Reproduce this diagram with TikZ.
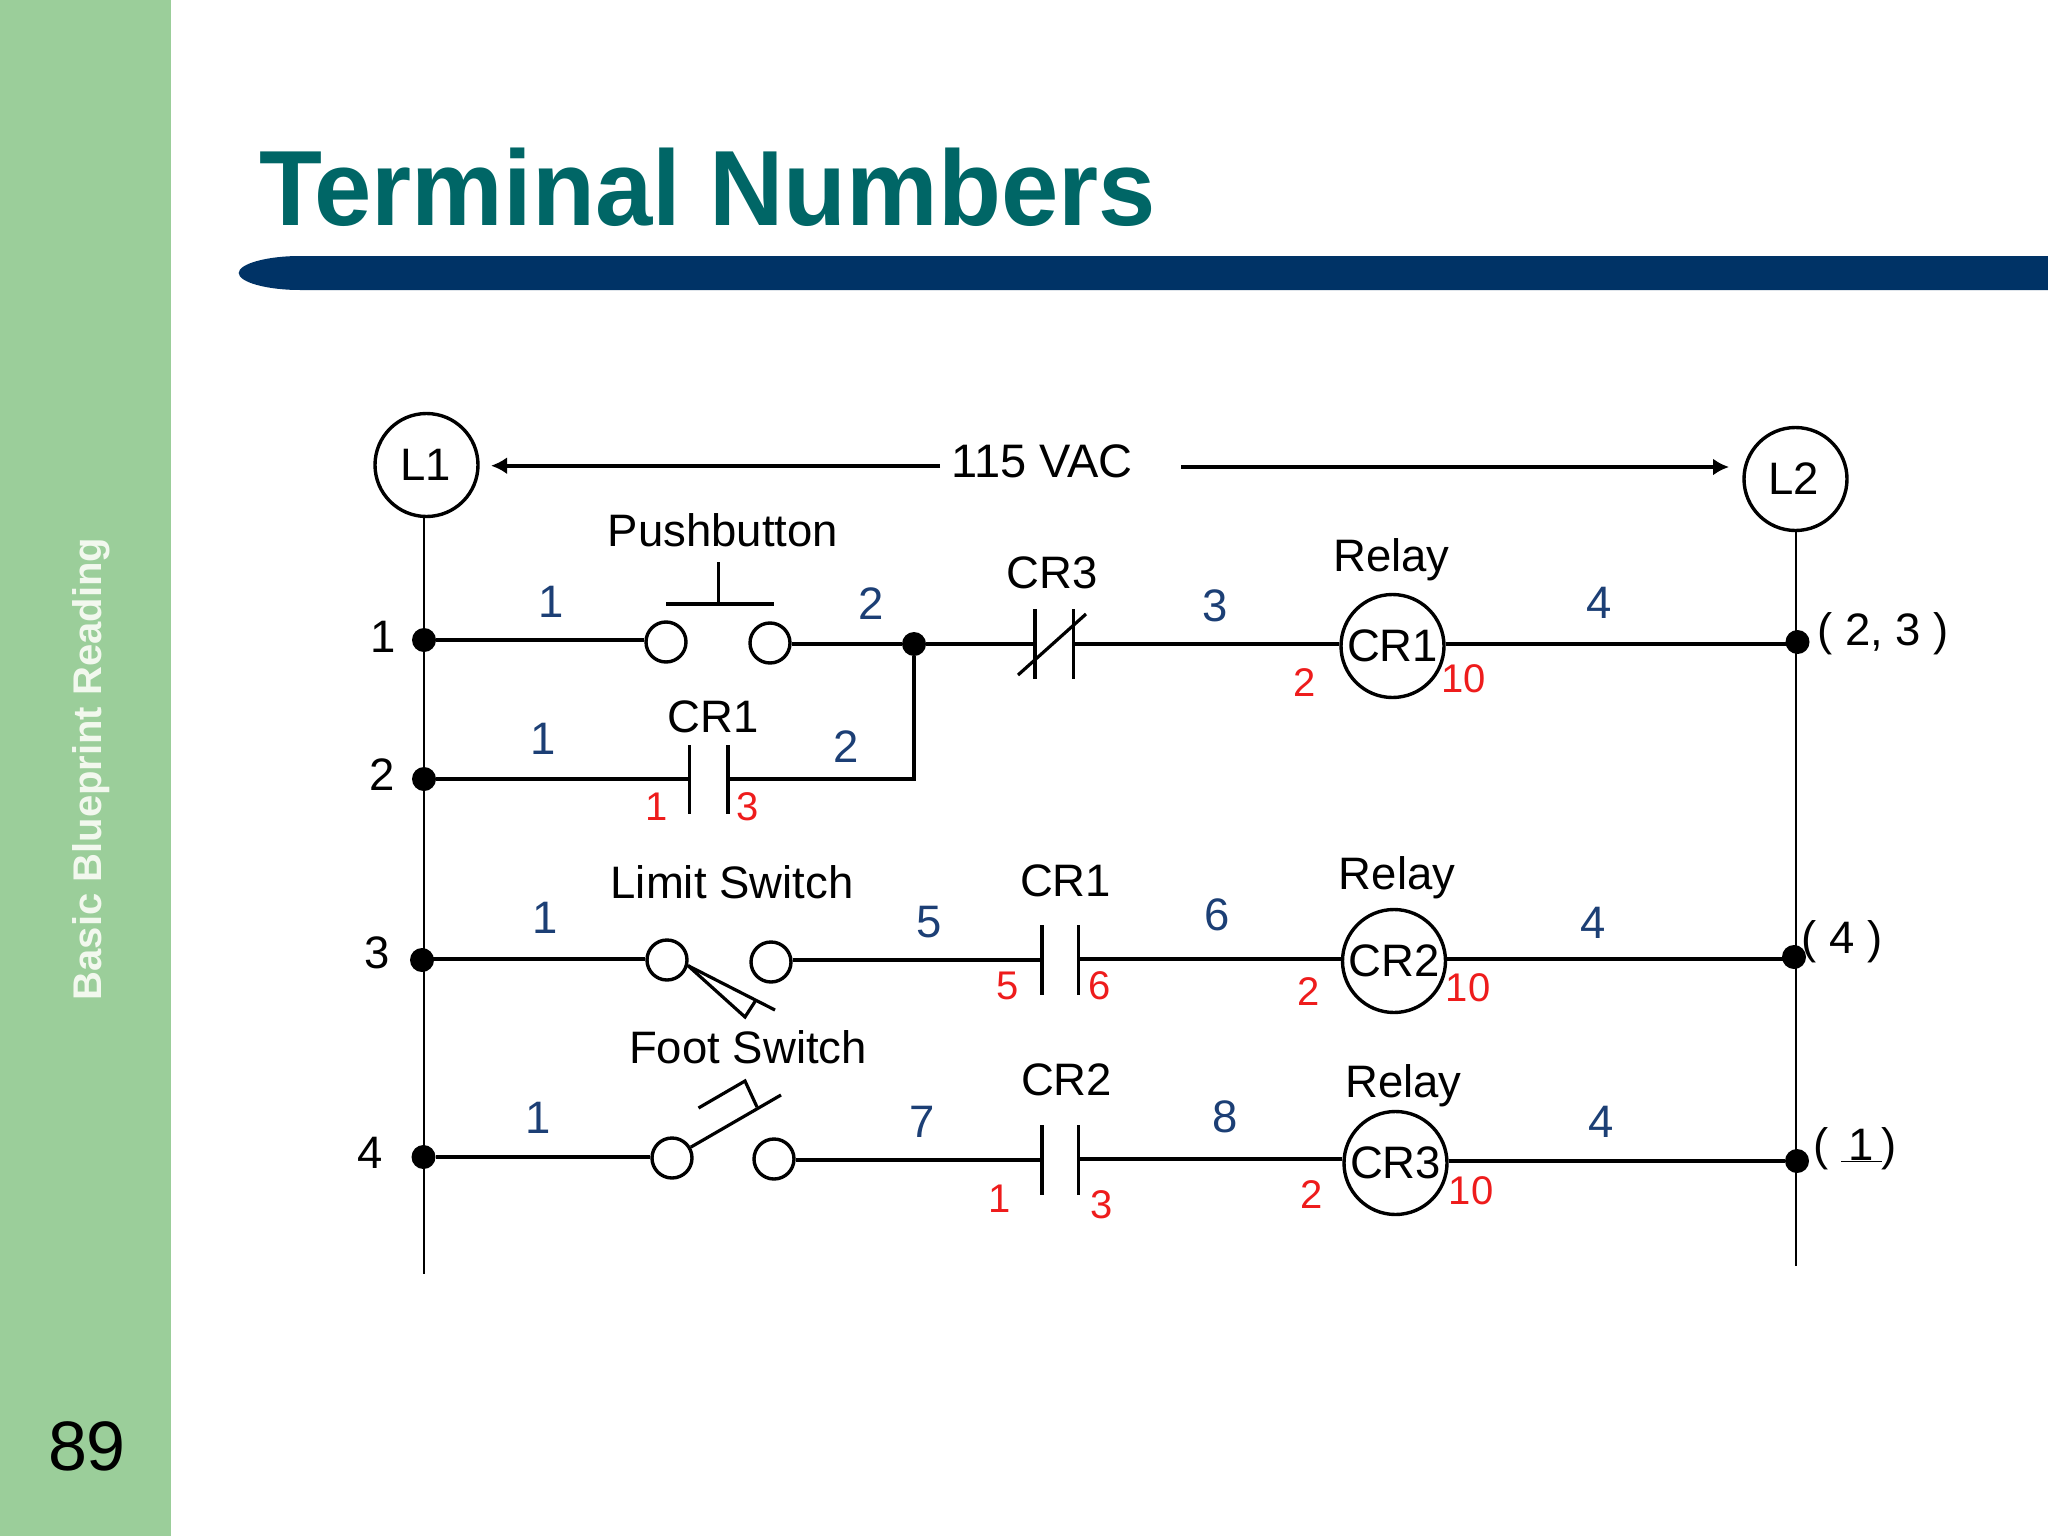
\documentclass[tikz,border=0pt]{standalone}
\usepackage{fontspec}
\setmainfont{Liberation Sans}
\usetikzlibrary{arrows.meta}
\definecolor{sidegreen}{HTML}{9BCE9A}
\definecolor{titleteal}{HTML}{006666}
\definecolor{barblue}{HTML}{003366}
\definecolor{numblue}{HTML}{1C3F75}
\definecolor{numred}{HTML}{EE1C1C}
\definecolor{sidetext}{HTML}{F2F8EE}
\tikzset{
  x=1pt,y=-1pt,
  wire/.style={line width=3.9pt,black},
  rail/.style={line width=2.9pt,black},
  plate/.style={line width=3.2pt,black},
  harrow/.style={line width=3.6pt,black,-{Latex[length=16pt,width=17pt]}},
  txt/.style={anchor=base,inner sep=0pt,outer sep=0pt,font=\fontsize{45.5}{45.5}\selectfont},
  blk/.style={txt,text=black},
  blu/.style={txt,text=numblue,xshift=1pt},
  rd/.style={txt,text=numred,xshift=1pt,font=\fontsize{40}{40}\selectfont},
  bigc/.style={circle,draw=black,line width=3.4pt,fill=white,minimum size=103pt,inner sep=0pt,font=\fontsize{45.5}{45.5}\selectfont},
  term/.style={circle,draw=black,line width=3.4pt,fill=white,minimum size=40pt,inner sep=0pt},
  dot/.style={circle,fill=black,minimum size=24pt,inner sep=0pt},
}
\begin{document}
\begin{tikzpicture}
\useasboundingbox (0,0) rectangle (2048,1536);
\fill[white] (0,0) rectangle (2048,1536);
\fill[sidegreen] (0,0) rectangle (170.7,1536);
\fill[barblue] (238.7,273) .. controls (238.7,264) and (266,256) .. (300,256) -- (2048,256) -- (2048,290) -- (300,290) .. controls (266,290) and (238.7,282) .. cycle;
\node[anchor=base west,inner sep=0pt,text=titleteal,font=\fontsize{107}{107}\selectfont\bfseries] (title) at (259,225) {\scalebox{0.963}[1]{Terminal Numbers}};
\node[rotate=90,inner sep=0pt,text=sidetext,font=\fontsize{40}{40}\selectfont\bfseries] (side) at (91,769) {Basic Blueprint Reading};
\node[anchor=base,inner sep=0pt,font=\fontsize{70}{70}\selectfont] (page) at (87,1470) {89};

% rails
\node[bigc] (L1) at (426.5,465) {\hspace{-2pt}L1};
\node[bigc] (L2) at (1795.5,479) {\hspace{-4pt}L2};
\coordinate (L1end) at (424,1274);
\coordinate (L2end) at (1796,1266);
\draw[rail] (L1.south -| L1end) -- (L1end);
\draw[rail] (L2.south -| L2end) -- (L2end);

% voltage
\node[blk,font=\fontsize{47}{47}\selectfont] (vac) at (1042,477) {115 VAC};
\coordinate (vacL) at (940,465.7);
\coordinate (vacLt) at (491,465.7);
\coordinate (vacR) at (1181,467);
\coordinate (vacRt) at (1729,467);
\draw[harrow] (vacL) -- (vacLt);
\draw[harrow] (vacR) -- (vacRt);

% dots
\node[dot] (d1) at (424,640) {};
\node[dot] (d2) at (424,779) {};
\node[dot] (d3) at (422,960) {};
\node[dot] (d4) at (423.5,1157) {};
\node[dot] (j) at (914,644) {};
\node[dot] (e1) at (1797.5,642) {};
\node[dot] (e3) at (1794,957) {};
\node[dot] (e4) at (1797,1161) {};

% terminals
\node[term] (a1) at (666,642) {};
\node[term] (a2) at (770,643) {};
\node[term] (c1) at (667,960) {};
\node[term] (c2) at (771,962) {};
\node[term] (f1) at (672,1158) {};
\node[term] (f2) at (774,1159) {};

% coils
\node[bigc] (cr1) at (1392.5,646) {CR1};
\node[bigc] (cr2) at (1394,961) {CR2};
\node[bigc] (cr3) at (1395.5,1163) {CR3};

% contact plates
\coordinate (p1a) at (1035,609); \coordinate (p1b) at (1035,679);
\coordinate (p2a) at (1073.7,609); \coordinate (p2b) at (1073.7,679);
\coordinate (s1) at (1018,675); \coordinate (s2) at (1086,614);
\coordinate (q1a) at (689.5,745); \coordinate (q1b) at (689.5,814);
\coordinate (q2a) at (728,745); \coordinate (q2b) at (728,814);
\coordinate (r1a) at (1042,925); \coordinate (r1b) at (1042,995);
\coordinate (r2a) at (1078.6,925); \coordinate (r2b) at (1078.6,995);
\coordinate (u1a) at (1042,1125); \coordinate (u1b) at (1042,1195);
\coordinate (u2a) at (1078.6,1125); \coordinate (u2b) at (1078.6,1195);
\draw[plate] (p1a) -- (p1b);
\draw[plate] (p2a) -- (p2b);
\draw[plate] (s1) -- (s2);
\draw[plate] (q1a) -- (q1b);
\draw[plate] (q2a) -- (q2b);
\draw[plate] (r1a) -- (r1b);
\draw[plate] (r2a) -- (r2b);
\draw[plate] (u1a) -- (u1b);
\draw[plate] (u2a) -- (u2b);
\coordinate (p1m) at (1035,644); \coordinate (p2m) at (1073.7,644);
\coordinate (q1m) at (689.5,779); \coordinate (q2m) at (728,779);
\coordinate (r1m) at (1042,960); \coordinate (r2m) at (1078.6,959);
\coordinate (u1m) at (1042,1160); \coordinate (u2m) at (1078.6,1159);
\coordinate (qc) at (914,779);

% wires, all level
\draw[wire] (d1) -- (d1 -| a1.west);
\draw[wire] (a2.east |- j) -- (j);
\draw[wire] (j) -- (j -| p1m);
\draw[wire] (p2m) -- (p2m -| cr1.west);
\draw[wire] (cr1.east |- p2m) -- (p2m -| e1);
\draw[wire] (d2) -- (q1m);
\draw[wire] (q2m) -- (qc) -- (j);
\draw[wire] (d3 |- r2m) -- (r2m -| c1.west);
\draw[wire] (c2.east |- r1m) -- (r1m);
\draw[wire] (r2m) -- (r2m -| cr2.west);
\draw[wire] (cr2.east |- r2m) -- (r2m -| e3);
\draw[wire] (d4) -- (d4 -| f1.west);
\draw[wire] (f2.east |- u1m) -- (u1m);
\draw[wire] (u2m) -- (u2m -| cr3.west);
\draw[wire] (cr3.east |- e4) -- (e4);

% pushbutton
\coordinate (pb1) at (718.6,562); \coordinate (pb2) at (718.6,604);
\coordinate (pb3) at (666,604); \coordinate (pb4) at (774,604);
\draw[plate] (pb1) -- (pb2);
\draw[plate] (pb3) -- (pb4);
% limit switch
\coordinate (ls1) at (775,1010); \coordinate (ls2) at (745,1017); \coordinate (ls3) at (756,1000);
\draw[plate] (c1.-15) -- (ls1);
\draw[plate,line join=miter] (c1.-15) -- (ls2) -- (ls3);
% foot switch
\coordinate (fs1) at (781,1095); \coordinate (fs2) at (698.5,1108); \coordinate (fs3) at (745,1081); \coordinate (fs4) at (757,1107);
\draw[plate] (f1.30) -- (fs1);
\draw[plate] (fs2) -- (fs3) -- (fs4);

% black labels
\node[blk] (tPB) at (723,546) {Pushbutton};
\node[blk] (tCR1a) at (713.5,732) {CR1};
\node[blk] (tCR3) at (1052,588) {CR3};
\node[blk] (tRel1) at (1391.5,571) {Relay};
\node[blk] (tLS) at (732,898) {Limit Switch};
\node[blk] (tFS) at (748,1063) {Foot Switch};
\node[blk] (tCR1b) at (1065.5,896) {CR1};
\node[blk] (tRel2) at (1397,889) {Relay};
\node[blk] (tCR2) at (1066.5,1095) {CR2};
\node[blk] (tRel3) at (1403.5,1097) {Relay};
\node[blk] (n1) at (383,652) {1};
\node[blk] (n2) at (382,790) {2};
\node[blk] (n3) at (377,968) {3};
\node[blk] (n4) at (370.5,1168) {4};
\node[blk] (x1) at (1883,645) {( 2, 3 )};
\node[blk] (x2) at (1842,953) {( 4 )};
\node[blk] (x3) at (1855,1160) {( \underline{\,1\,})};

% blue labels
\node[blu] (b1) at (550,617) {1};
\node[blu] (b2) at (870,619) {2};
\node[blu] (b3) at (1214.5,621) {3};
\node[blu] (b4) at (1598.5,618) {4};
\node[blu] (b5) at (542,754) {1};
\node[blu] (b6) at (845,762) {2};
\node[blu] (b7) at (544,933) {1};
\node[blu] (b8) at (928,937) {5};
\node[blu] (b9) at (1216,930) {6};
\node[blu] (b10) at (1592,938) {4};
\node[blu] (b11) at (537,1133) {1};
\node[blu] (b12) at (921,1137) {7};
\node[blu] (b13) at (1224,1132) {8};
\node[blu] (b14) at (1600,1137) {4};

% red labels
\node[rd] (r1) at (656,820) {1};
\node[rd] (r2) at (747,820) {3};
\node[rd] (r3) at (1304,696) {2};
\node[rd] (r4) at (1462.5,692) {10};
\node[rd] (r5) at (1007,999) {5};
\node[rd] (r6) at (1099,999) {6};
\node[rd] (r7) at (1308,1005) {2};
\node[rd] (r8) at (1467,1001) {10};
\node[rd] (r9) at (999,1212) {1};
\node[rd] (r10) at (1101,1218) {3};
\node[rd] (r11) at (1311,1208) {2};
\node[rd] (r12) at (1470,1204) {10};
\end{tikzpicture}
\end{document}
